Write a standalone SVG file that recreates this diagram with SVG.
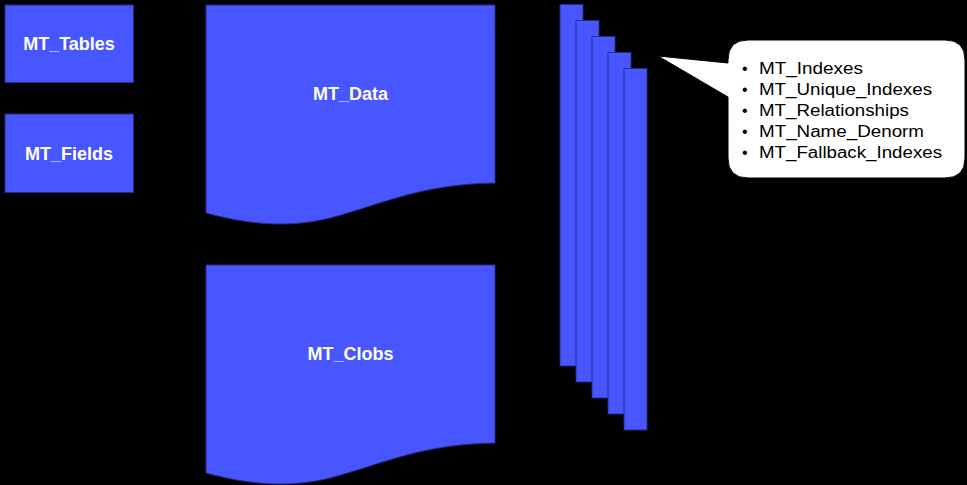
<svg xmlns="http://www.w3.org/2000/svg" width="967" height="485" viewBox="0 0 967 485">
<style>
.box{fill:#4756FF;stroke:#2A2A88;stroke-width:1}
.lbl{font-family:"Liberation Sans",Arial,sans-serif;font-weight:bold;font-size:18px;fill:#FFFFFF;text-anchor:middle}
.item{font-family:"Liberation Sans",Arial,sans-serif;font-size:16px;fill:#000000}
</style>
<rect x="0" y="0" width="967" height="485" fill="#000000"/>
<g id="mt_tables">
<rect class="box" x="5" y="5" width="128.5" height="77.5"/>
<text class="lbl" x="69" y="50">MT_Tables</text>
</g>
<g id="mt_fields">
<rect class="box" x="5" y="114" width="128.5" height="78.5"/>
<text class="lbl" x="69" y="160">MT_Fields</text>
</g>
<g id="mt_data">
<path class="box" d="M206,5 H495 V183 C420,184 380,205 330,218 C290,228 250,225 206,213 Z"/>
<text class="lbl" x="350.5" y="100">MT_Data</text>
</g>
<g id="mt_clobs">
<path class="box" d="M206,265 H495 V443 C420,444 380,465 330,478 C290,488 250,485 206,473 Z"/>
<text class="lbl" x="350.5" y="360">MT_Clobs</text>
</g>
<g id="index_stack">
<rect class="box" x="560" y="4.5" width="23" height="361.5"/>
<rect class="box" x="576" y="20.5" width="23" height="361.5"/>
<rect class="box" x="592" y="36.5" width="23" height="361.5"/>
<rect class="box" x="608" y="52.5" width="23" height="361.5"/>
<rect class="box" x="624" y="68.5" width="23" height="361.5"/>
</g>
<g id="callout">
<path d="M748,40 H945 Q965,40 965,60 V158 Q965,178 945,178 H748 Q728,178 728,158 V97 L658,56 L728,63 V60 Q728,40 748,40 Z" fill="#FFFFFF" stroke="#000000" stroke-width="1"/>
<g class="item">
<text x="742" y="74">•</text>
<text x="759" y="74" textLength="104" lengthAdjust="spacingAndGlyphs">MT_Indexes</text>
<text x="742" y="95">•</text>
<text x="759" y="95" textLength="173" lengthAdjust="spacingAndGlyphs">MT_Unique_Indexes</text>
<text x="742" y="116">•</text>
<text x="759" y="116" textLength="150" lengthAdjust="spacingAndGlyphs">MT_Relationships</text>
<text x="742" y="137">•</text>
<text x="759" y="137" textLength="165" lengthAdjust="spacingAndGlyphs">MT_Name_Denorm</text>
<text x="742" y="158">•</text>
<text x="759" y="158" textLength="183" lengthAdjust="spacingAndGlyphs">MT_Fallback_Indexes</text>
</g>
</g>
<g id="connectors"></g>
</svg>
